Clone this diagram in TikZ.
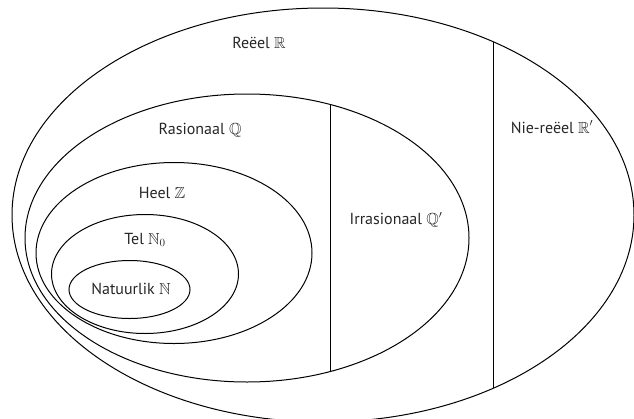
\documentclass[tikz,border=0pt]{standalone}
\usepackage{amssymb}
\usepackage{fontspec}
\setmainfont{PT Sans}
\begin{document}
\begin{tikzpicture}[x=1pt,y=-1pt,
  setline/.style={line width=1pt,black},
  lbl/.style={font=\fontsize{16}{19}\selectfont,inner sep=0pt,text=black!85}]
\useasboundingbox (0,0) rectangle (634,418);
\clip (0,0) rectangle (634,418);
% outer: Reeel
\draw[setline] (323,215) ellipse [x radius=311pt, y radius=207pt];
% rational
\draw[setline] (247,238) ellipse [x radius=222pt, y radius=144pt];
% integers
\draw[setline] (174,253) ellipse [x radius=138pt, y radius=90.5pt];
% whole
\draw[setline] (145,274) ellipse [x radius=93.5pt, y radius=59.5pt];
% natural
\draw[setline] (129.5,289.5) ellipse [x radius=60.5pt, y radius=29pt];
% dividing lines
\coordinate (rtop) at (493,41.7);
\coordinate (rbot) at (493,388.3);
\coordinate (qtop) at (330,104.4);
\coordinate (qbot) at (330,371.6);
\draw[setline] (rtop) -- (rbot);
\draw[setline] (qtop) -- (qbot);
% labels
\node[lbl] (R) at (259,43) {Reëel $\mathbb{R}$};
\node[lbl] (Q) at (200,130) {Rasionaal $\mathbb{Q}$};
\node[lbl] (Z) at (162,193) {Heel $\mathbb{Z}$};
\node[lbl] (N0) at (145,240) {Tel $\mathbb{N}_0$};
\node[lbl] (N) at (131,289) {Natuurlik $\mathbb{N}$};
\node[lbl] (Qp) at (396,220) {Irrasionaal $\mathbb{Q}'$};
\node[lbl] (Rp) at (552,127) {Nie-reëel $\mathbb{R}'$};
\end{tikzpicture}
\end{document}
